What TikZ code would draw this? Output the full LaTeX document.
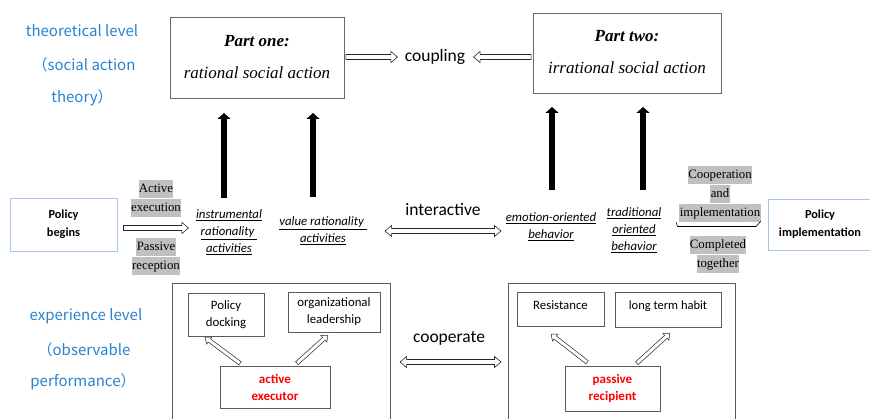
\documentclass[tikz,border=0pt]{standalone}
\usepackage{fontspec}
\setmainfont{Carlito}
\newfontfamily\cjkf{Noto Sans CJK SC}
\newfontfamily\tms{Liberation Serif}
\usetikzlibrary{arrows.meta,shapes.arrows,calc}
\definecolor{lvlblue}{RGB}{40,130,205}
\definecolor{hlgray}{RGB}{192,192,192}
\definecolor{boxblue}{RGB}{165,200,235}
\definecolor{boxgray}{RGB}{90,90,90}
\newcommand\hlt[1]{{\setlength\fboxsep{0.4pt}\colorbox{hlgray}{\strut #1}}}
\newcommand\blockarrow[4][]{%
  \path let \p1=($(#4)-(#3)$) in
    node[#2,#1,minimum height={veclen(\x1,\y1)},rotate={atan2(\y1,\x1)}]
      at ($(#3)!0.5!(#4)$) {};}
\tikzset{
  sarr/.style={single arrow, draw=black!85, fill=white, line width=0.6pt, inner sep=0pt,
    inner ysep=2.2pt, single arrow head extend=3pt, single arrow tip angle=80,
    single arrow head indent=0pt},
  darr/.style={double arrow, draw=black!85, fill=white, line width=0.6pt, inner sep=0pt,
    inner ysep=2.2pt, double arrow head extend=3pt, double arrow tip angle=80,
    double arrow head indent=0pt},
  smallarr/.style={single arrow, draw=black!85, fill=white, line width=0.5pt, inner sep=0pt,
    inner ysep=1.7pt, single arrow head extend=2.5pt, single arrow tip angle=80,
    single arrow head indent=0pt},
  bigarr/.style={line width=6pt, -{Triangle[length=6pt,width=13pt]}},
  lvl/.style={font=\cjkf\fontsize{15}{17}\selectfont, text=lvlblue},
  partbox/.style={draw=black!60, line width=0.7pt, inner sep=0pt},
  labl/.style={font=\fontsize{17.5}{20}\selectfont},
  ulabel/.style={font=\itshape\fontsize{12.8}{17}\selectfont, align=center, inner sep=1pt},
  glabel/.style={font=\tms\fontsize{12.8}{17}\selectfont, align=center, inner sep=0pt},
  policy/.style={draw=boxblue, line width=0.8pt, font=\bfseries\fontsize{12.3}{18}\selectfont, align=center, inner sep=0pt},
  outer/.style={draw=boxgray, line width=0.7pt},
  inner/.style={draw=boxgray, line width=0.7pt, font=\fontsize{12.8}{17}\selectfont, align=center, inner sep=0pt},
  actor/.style={draw=boxgray, line width=0.7pt, font=\bfseries\fontsize{13}{17}\selectfont, text=red, align=center, inner sep=0pt},
}
\begin{document}
\begin{tikzpicture}[x=1pt,y=-1pt]
\useasboundingbox (0,0) rectangle (870,419);
% level labels
\node[lvl] (t1) at (82,31) {theoretical level};
\node[lvl] (t2) at (84,65) {（social action};
\node[lvl] (t3) at (82,98) {theory）};
\node[lvl] (e1) at (86,316) {experience level};
\node[lvl] (e2) at (84,350) {（observable};
\node[lvl] (e3) at (83,382) {performance）};
% part boxes
\node[partbox, minimum width=174pt, minimum height=81pt] (p1) at (257,57.5) {};
\node[font=\tms\bfseries\itshape\fontsize{17}{20}\selectfont] (p1a) at (257,41) {Part one:};
\node[font=\tms\itshape\fontsize{17}{20}\selectfont] (p1b) at (257,73) {rational social action};
\node[partbox, minimum width=188pt, minimum height=80pt] (p2) at (627,53) {};
\node[font=\tms\bfseries\itshape\fontsize{17}{20}\selectfont] (p2a) at (627,36) {Part two:};
\node[font=\tms\itshape\fontsize{17}{20}\selectfont] (p2b) at (627,68) {irrational social action};
\node[labl] (cp) at (435,57) {coupling};
\coordinate (cpl) at (396,57);
\coordinate (cpr) at (475,57);
\blockarrow{sarr}{p1.east|-cpl}{cpl}
\blockarrow{sarr}{p2.west|-cpr}{cpr}
% middle row
\node[policy, minimum width=107pt, minimum height=53pt] (pb) at (63.5,224.5) {Policy\\begins};
\node[policy, minimum width=104pt, minimum height=51pt] (pi) at (820,224.5) {Policy\\implementation};
\node[glabel] (ae) at (156,198.5) {\hlt{Active}\\\hlt{execution}};
\node[glabel] (pr) at (156,256.5) {\hlt{Passive}\\\hlt{reception}};
\node[ulabel] (ir) at (229,232) {\underline{instrumental}\\\underline{rationality }\\\underline{activities}};
\node[ulabel] (vr) at (323,231) {\underline{value rationality }\\\underline{activities}};
\node[ulabel] (eo) at (551,227) {\underline{emotion-oriented}\\\underline{behavior}};
\node[ulabel] (tr) at (634,230) {\underline{traditional}\\\underline{oriented}\\\underline{behavior}};
\node[glabel] (ci) at (720,194) {\hlt{Cooperation}\\\hlt{and}\\\hlt{implementation}};
\node[glabel] (ct) at (718,254.5) {\hlt{Completed}\\\hlt{together}};
\coordinate (pbs) at (122,228);
\coordinate (pbe) at (187,228);
\blockarrow{sarr}{pbs}{pbe}
\node[labl] (ia) at (443,210) {interactive};
\coordinate (ial) at (385,231);
\coordinate (iar) at (501,231);
\blockarrow{darr}{ial}{iar}
\coordinate (cis) at (676,222);
\coordinate (cie) at (761,221);
\draw[line width=0.6pt] (cis) -- ++(1.5,4.5) -- ($(cie)+(-5,5.5)$) -- (cie);
% big black arrows
\coordinate (b1) at (224,198);
\coordinate (b2) at (313,197);
\coordinate (b3) at (552,190);
\coordinate (b4) at (643,190);
\draw[bigarr] (b1) -- (b1|-0,113);
\draw[bigarr] (b2) -- (b2|-0,113);
\draw[bigarr] (b3) -- (b3|-0,107);
\draw[bigarr] (b4) -- (b4|-0,107);
% bottom left group
\draw[outer] (172,283) -- (172,421) (390,421) -- (390,283) -- (172,283);
\node[inner, minimum width=76pt, minimum height=43pt] (pd) at (226,314.5) {Policy\\docking};
\node[inner, minimum width=92pt, minimum height=40pt] (ol) at (334,312) {organizational\\leadership};
\node[actor, minimum width=110pt, minimum height=42pt] (ax) at (275,387) {active\\executor};
\coordinate (a1s) at (241,364);
\coordinate (a1e) at (206,338);
\coordinate (a2s) at (296,364);
\coordinate (a2e) at (327,336);
\blockarrow{smallarr}{a1s}{a1e}
\blockarrow{smallarr}{a2s}{a2e}
\node[labl] (co) at (449,338) {cooperate};
\coordinate (col) at (400,362);
\coordinate (cor) at (501,362);
\blockarrow{darr}{col}{cor}
% bottom right group
\draw[outer] (508,421) -- (508,283) -- (735,283) -- (735,421);
\node[inner, minimum width=87pt, minimum height=34pt, anchor=north] (rs) at (560.5,292) {};
\node[font=\fontsize{12.8}{17}\selectfont] (rst) at (560.5,305) {Resistance};
\node[inner, minimum width=106pt, minimum height=35pt, anchor=north] (lt) at (668,292) {};
\node[font=\fontsize{12.5}{17}\selectfont] (ltt) at (668,306) {long term habit};
\node[actor, minimum width=95pt, minimum height=45pt] (px) at (612.5,388.5) {passive\\recipient};
\coordinate (r1s) at (588,363);
\coordinate (r1e) at (552,335);
\coordinate (r2s) at (636,364);
\coordinate (r2e) at (669,334);
\blockarrow{smallarr}{r1s}{r1e}
\blockarrow{smallarr}{r2s}{r2e}
\end{tikzpicture}
\end{document}
